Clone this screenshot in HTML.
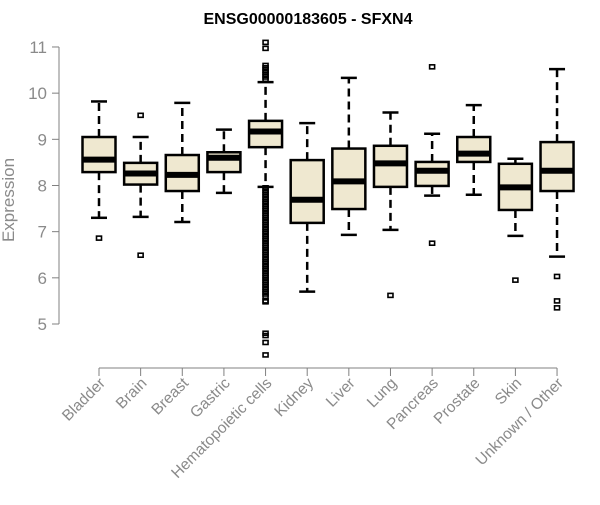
<!DOCTYPE html>
<html><head><meta charset="utf-8"><style>
body{margin:0;background:#fff}
svg{font-family:"Liberation Sans",Arial,sans-serif}
</style></head><body>
<svg id="chart" width="600" height="500" xmlns="http://www.w3.org/2000/svg">
<text x="308" y="24" text-anchor="middle" font-weight="bold" font-size="16">ENSG00000183605 - SFXN4</text>
<text transform="translate(14,200) rotate(-90)" text-anchor="middle" font-size="17" fill="#8a8a8a">Expression</text>
<g id="yaxis"></g>
<g id="xaxis"></g>
<g id="boxes"></g>
</svg>
<script>
const categories=["Bladder","Brain","Breast","Gastric","Hematopoietic cells","Kidney","Liver","Lung","Pancreas","Prostate","Skin","Unknown / Other"];
const whiskerLow=[7.30,7.32,7.21,7.84,7.97,5.70,6.93,7.04,7.78,7.80,6.91,6.46];
const q1=[8.29,8.02,7.88,8.29,8.83,7.19,7.49,7.97,7.99,8.51,7.47,7.88];
const medians=[8.56,8.26,8.23,8.60,9.17,7.69,8.09,8.48,8.32,8.69,7.96,8.32];
const q3=[9.05,8.49,8.66,8.72,9.40,8.55,8.80,8.86,8.51,9.05,8.47,8.94];
const whiskerHigh=[9.82,9.05,9.79,9.21,10.24,9.35,10.33,9.58,9.12,9.74,8.58,10.52];
const outliers=[[6.86],[9.52,6.49],[],[],
 [11.1,10.97,10.6,10.55,10.5,10.45,10.4,10.35,10.3,7.95,7.9,7.85,7.8,7.75,7.7,7.65,7.6,7.55,7.5,7.45,7.4,7.35,7.3,7.25,7.2,7.15,7.1,7.05,7.0,6.95,6.9,6.85,6.8,6.75,6.7,6.65,6.6,6.55,6.5,6.45,6.4,6.35,6.3,6.25,6.2,6.15,6.1,6.05,6.0,5.95,5.9,5.85,5.8,5.75,5.7,5.65,5.6,5.5,5.48,4.8,4.75,4.6,4.33],
 [],[],[5.62],[10.57,6.75],[],[5.95],[6.03,5.50,5.35]];
const yTicks=[5,6,7,8,9,10,11];
const NS="http://www.w3.org/2000/svg";
const y=v=>324-(v-5)*46.17;
const x=i=>99+i*41.64;
function mk(t,a,p){const e=document.createElementNS(NS,t);for(const k in a)e.setAttribute(k,a[k]);p.appendChild(e);return e;}
const ya=document.getElementById('yaxis'),xa=document.getElementById('xaxis'),bx=document.getElementById('boxes');
let l=mk('line',{x1:59,x2:59,y1:y(11),y2:y(5),stroke:'#808080'},ya);


yTicks.forEach(t=>{
 let tk=mk('line',{x1:52,x2:59,y1:y(t),y2:y(t),stroke:'#808080'},ya);
 
 
 let tx=mk('text',{x:47,y:y(t)+6,'text-anchor':'end','font-size':17,fill:'#8a8a8a'},ya);
 tx.textContent=t;
 
 
});
let xl=mk('line',{x1:x(0),x2:x(categories.length-1),y1:368,y2:368,stroke:'#808080'},xa);


categories.forEach((c,i)=>{
 const cx=x(i),hw=16.5;
 let tk=mk('line',{x1:cx,x2:cx,y1:368,y2:376,stroke:'#808080'},xa);
 
 
 let tx=mk('text',{transform:`translate(${cx+7},${384}) rotate(-45)`,'text-anchor':'end','font-size':15.5,fill:'#8a8a8a'},xa);
 tx.textContent=c;
 
 
 const g=mk('g',{},bx);
 
 
 mk('line',{x1:cx,x2:cx,y1:y(q3[i]),y2:y(whiskerHigh[i]),stroke:'#000','stroke-width':2.5,'stroke-dasharray':'8,5'},g);
 mk('line',{x1:cx,x2:cx,y1:y(q1[i]),y2:y(whiskerLow[i]),stroke:'#000','stroke-width':2.5,'stroke-dasharray':'8,5'},g);
 mk('line',{x1:cx-8,x2:cx+8,y1:y(whiskerHigh[i]),y2:y(whiskerHigh[i]),stroke:'#000','stroke-width':2.5},g);
 mk('line',{x1:cx-8,x2:cx+8,y1:y(whiskerLow[i]),y2:y(whiskerLow[i]),stroke:'#000','stroke-width':2.5},g);
 mk('rect',{x:cx-hw,y:y(q3[i]),width:2*hw,height:y(q1[i])-y(q3[i]),fill:'#efe8d0',stroke:'#000','stroke-width':2.5},g);
 mk('line',{x1:cx-hw,x2:cx+hw,y1:y(medians[i]),y2:y(medians[i]),stroke:'#000','stroke-width':6},g);
 outliers[i].forEach(o=>{
  let p=mk('rect',{x:cx-2.5,y:y(o)-2,width:5,height:4,fill:'none',stroke:'#000','stroke-width':1.6},g);
  
  
 });
});
</script>
</body></html>
